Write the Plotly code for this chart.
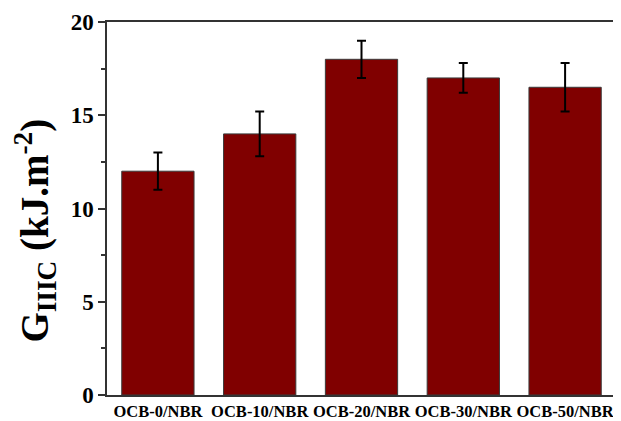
import plotly.graph_objects as go

categories = ["OCB-0/NBR", "OCB-10/NBR", "OCB-20/NBR", "OCB-30/NBR", "OCB-50/NBR"]
values = [12.0, 14.0, 18.0, 17.0, 16.5]
errors = [1.0, 1.2, 1.0, 0.8, 1.3]
y_ticks = [0, 5, 10, 15, 20]

font_family = "Times New Roman, Liberation Serif, Times, serif"

fig = go.Figure()
fig.add_trace(go.Bar(
    x=categories, y=values,
    marker=dict(color="#800000", line=dict(color="#3a3a3a", width=1)),
    width=0.71,
    error_y=dict(type="data", array=errors, visible=True, color="black",
                 thickness=2, width=4.5),
))

# page body has an 8px margin, so the figure is shifted by 8px
fig.update_layout(
    width=613, height=413,
    margin=dict(l=99, r=5, t=14, b=26, autoexpand=False),
    paper_bgcolor="white", plot_bgcolor="white",
    showlegend=False,
    font=dict(family=font_family, color="black"),
)
fig.update_xaxes(
    showline=True, linecolor="#333333", linewidth=1.5, mirror=True,
    ticks="", showgrid=False, automargin=False,
    tickfont=dict(family=font_family, size=16.5, weight="bold", color="black"),
)
fig.update_yaxes(
    range=[0, 20], tickvals=y_ticks, ticktext=[str(v) for v in y_ticks],
    showline=True, linecolor="#333333", linewidth=1.5, mirror=True,
    ticks="outside", ticklen=7, tickwidth=1.5, tickcolor="#333333",
    minor=dict(dtick=2.5, ticks="outside", ticklen=4, tickwidth=1.5, tickcolor="#333333"),
    showgrid=False, zeroline=False, automargin=False,
    tickfont=dict(family=font_family, size=23, weight="bold", color="black"),
)
fig.add_annotation(
    text="G<sub>IIIC</sub> (kJ.m<sup>-2</sup>)",
    xref="paper", yref="paper", x=-0.14, y=0.44,
    xanchor="center", yanchor="middle", textangle=-90, showarrow=False,
    font=dict(family=font_family, size=39, weight="bold", color="black"),
)

fig.write_html("out.html")
